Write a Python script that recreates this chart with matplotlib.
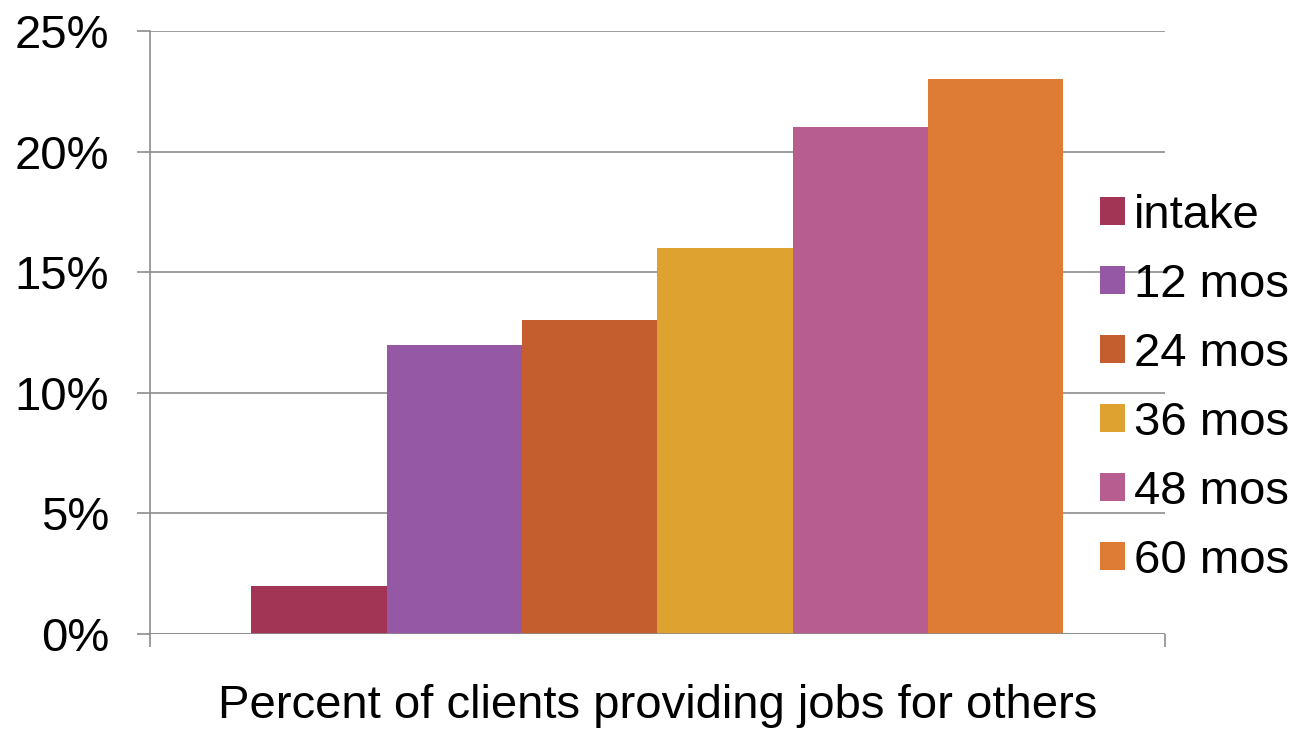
"""
Percent of clients providing jobs for others, by follow-up wave.
Saves out.png.
"""

import matplotlib.pyplot as plt
import numpy as np
from matplotlib.ticker import FuncFormatter


WAVES = ["intake", "12 mos", "24 mos", "36 mos", "48 mos", "60 mos"]
PERCENTS = [2, 12, 13, 16, 21, 23]
COLORS = ["#A23456", "#9558A5", "#C55E2E", "#DDA22F", "#B85D8F", "#DE7C35"]
YTICKS = [0, 5, 10, 15, 20, 25]
XLABEL = "Percent of clients providing jobs for others"


def main() -> None:
    plt.rcParams["font.family"] = ["Liberation Sans", "DejaVu Sans"]

    fig = plt.figure(figsize=(13, 7.31), dpi=100)
    ax = fig.add_axes([0.1154, 0.1327, 0.7806, 0.8249])

    n = len(WAVES)
    width = 0.8 / n
    offsets = (np.arange(n) - (n - 1) / 2) * width

    for off, val, color, label in zip(offsets, PERCENTS, COLORS, WAVES):
        ax.bar(off, val, width=width, color=color, label=label,
               edgecolor="none", zorder=3)

    ax.set_xlim(-0.5, 0.5)
    ax.set_ylim(0, 25)
    ax.set_yticks(YTICKS)
    ax.yaxis.set_major_formatter(FuncFormatter(lambda v, _: f"{v:.0f}%"))
    ax.set_xticks([-0.5, 0.5])
    ax.set_xticklabels([])

    grey = "#8c8c8c"
    ax.grid(axis="y", color=grey, linewidth=1.2, zorder=0)
    for side in ["top", "right", "bottom"]:
        ax.spines[side].set_visible(False)
    ax.spines["left"].set_color(grey)
    ax.spines["left"].set_linewidth(1.2)
    ax.axhline(0, color=grey, linewidth=1.2, zorder=4)

    ax.tick_params(axis="y", length=9.4, width=1.2, color=grey,
                   labelsize=34, pad=20)
    ax.tick_params(axis="x", length=9.4, width=1.2, color=grey)

    ax.set_xlabel(XLABEL, fontsize=34, labelpad=23)

    fig.legend(
        loc="upper left",
        bbox_to_anchor=(0.846, 0.735),
        frameon=False,
        fontsize=34,
        handlelength=0.53,
        handleheight=0.53,
        handletextpad=0.2,
        labelspacing=0.53,
        borderaxespad=0,
        borderpad=0,
    )

    fig.savefig("out.png", dpi=100)
    plt.close(fig)


if __name__ == "__main__":
    main()
